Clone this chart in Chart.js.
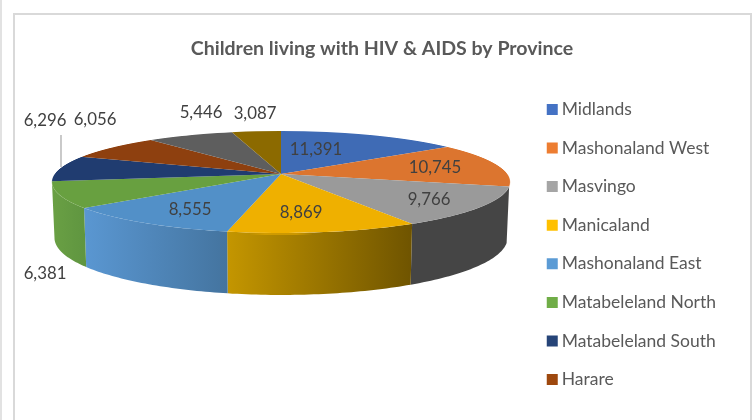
<!DOCTYPE html>
<html>
<head>
<meta charset="utf-8">
<style>html,body{margin:0;padding:0;background:#fff}canvas{display:block}</style>
<script src="https://cdn.jsdelivr.net/npm/chart.js@4"></script>
</head>
<body>
<canvas id="c" width="756" height="420"></canvas>
<script>
const categories = ["Midlands","Mashonaland West","Masvingo","Manicaland","Mashonaland East","Matabeleland North","Matabeleland South","Harare","Bulawayo","Mashonaland Central"];
const children = [11391,10745,9766,8869,8555,6381,6296,6056,5446,3087];
const legendCount = 8;
const legendColors = ["#4472C4","#ED7D31","#A5A5A5","#FFC000","#5B9BD5","#70AD47","#264478","#9E480E","#636363","#997300"];
const topColors = ["#3F6BB5","#DC752F","#9A9A9A","#EFB000","#5290C8","#68A040","#203C70","#8E400F","#5E5E5E","#8C6A00"];
const wallLeft = ["#2F5597","#A35A20","#454545","#C49600","#5A97D2","#6AA044","#1B3360","#7A360C","#4A4A4A","#6F5400"];
const wallRight = ["#2F5597","#A35A20","#454545","#6F5400","#44749F","#5F9540","#1B3360","#7A360C","#4A4A4A","#6F5400"];
const labelSpots = [[316,150],[435,168],[429,200],[301,213],[190,210],[45,274],[45,121],[95,120],[201,113],[255,114]];
const leader = [[61,135],[61,167]];

const topPlane = {cx:281, cy:174, A:226.2, B:49.75, k:0.157};
const basePlane = {cx:281, cy:229, A:223.7, B:55.6, k:0.157};
function project(p, a){
  const u = Math.sin(a), v = -Math.cos(a), w = 1/(1 - p.k*v);
  return [p.cx + p.A*u*w, p.cy + p.B*v*w];
}
const visibleFrom = 104*Math.PI/180, visibleTo = 261*Math.PI/180;

const pie3d = {
  id:'pie3d',
  afterLayout(chart){
    const lg = chart.legend;
    lg.top += 20; lg.bottom += 20; lg.left += 1.5; lg.right += 1.5;
  },
  beforeDraw(chart){
    const ctx = chart.ctx;
    ctx.save();
    ctx.fillStyle = '#fff';
    ctx.fillRect(0,0,chart.width,chart.height);
    ctx.fillStyle = '#D9D9D9';
    ctx.fillRect(13,13,739,2);
    ctx.fillRect(13,13,2,407);
    ctx.fillRect(750,13,2,407);
    ctx.fillStyle = '#E2E2E2';
    ctx.fillRect(0,0,2,420);
    ctx.restore();
  },
  beforeDatasetsDraw(chart){
    const ctx = chart.ctx, arcs = chart.getDatasetMeta(0).data;
    // side wall
    arcs.forEach((arc,i)=>{
      const s = Math.max(arc.startAngle+Math.PI/2, visibleFrom);
      const e = Math.min(arc.endAngle+Math.PI/2, visibleTo);
      if(e <= s) return;
      const pts = [], low = [];
      const n = 40;
      for(let j=0;j<=n;j++){
        const a = s+(e-s)*j/n;
        pts.push(project(topPlane,a));
        low.push(project(basePlane,a));
      }
      const xs = pts.concat(low).map(p=>p[0]);
      const x0 = Math.min(...xs), x1 = Math.max(...xs);
      const g = ctx.createLinearGradient(x0,0,x1,0);
      g.addColorStop(0,wallLeft[i]); g.addColorStop(1,wallRight[i]);
      ctx.beginPath();
      pts.forEach((p,j)=> j?ctx.lineTo(p[0],p[1]):ctx.moveTo(p[0],p[1]));
      low.reverse().forEach(p=>ctx.lineTo(p[0],p[1]));
      ctx.closePath();
      ctx.fillStyle = g;
      ctx.fill();
    });
    // top surface, row by row through the perspective plane
    const first = arcs[0], R = first.outerRadius, x0 = first.x, y0 = first.y;
    const p = topPlane;
    const yTop = Math.floor(p.cy - p.B/(1+p.k)), yBot = Math.ceil(p.cy + p.B/(1-p.k));
    for(let Y=yTop; Y<=yBot; Y++){
      const D = Y+0.5-p.cy;
      let v = D/(p.B + p.k*D);
      v = Math.max(-1,Math.min(1,v));
      const w = 1/(1-p.k*v);
      const sx = p.A*w/R, sy = p.B*w*w/R;
      ctx.save();
      ctx.setTransform(1,0,0,1,0,0);
      ctx.beginPath(); ctx.rect(0,Y,chart.width,1); ctx.clip();
      ctx.setTransform(sx,0,0,sy,p.cx-sx*x0,Y+0.5-sy*(y0+R*v));
      arcs.forEach(a=>a.draw(ctx));
      ctx.restore();
    }
    // leader line + value labels
    ctx.save();
    ctx.strokeStyle = '#A6A6A6'; ctx.lineWidth = 1.2;
    ctx.beginPath(); ctx.moveTo(leader[0][0],leader[0][1]); ctx.lineTo(leader[1][0],leader[1][1]); ctx.stroke();
    ctx.font = '16.8px Lato';
    ctx.fillStyle = '#404040';
    ctx.textAlign = 'center'; ctx.textBaseline = 'middle';
    children.forEach((val,i)=>ctx.fillText(val.toLocaleString('en-US'),labelSpots[i][0],labelSpots[i][1]));
    ctx.restore();
    return false;
  }
};

new Chart(document.getElementById('c'),{
  type:'pie',
  plugins:[pie3d],
  data:{labels:categories,datasets:[{data:children,backgroundColor:topColors,borderWidth:0}]},
  options:{
    responsive:false,animation:false,
    layout:{padding:{left:39.5,right:31.5,top:37,bottom:8}},
    plugins:{
      tooltip:{enabled:false},
      title:{display:true,text:'Children living with HIV & AIDS by Province',color:'#595959',
        font:{family:'Lato',size:19.56,weight:'bold'},padding:{top:0,bottom:49}},
      legend:{position:'right',
        labels:{usePointStyle:true,pointStyle:'rect',boxWidth:1.5,boxHeight:11,padding:21.1,color:'#595959',font:{family:'Lato',size:17.5},
          filter:(item)=>item.index<legendCount,
          generateLabels(chart){
            return Chart.overrides.pie.plugins.legend.labels.generateLabels(chart).map((l,i)=>Object.assign(l,{pointStyle:'rect',fillStyle:legendColors[i],strokeStyle:legendColors[i],lineWidth:0}));
          }}}
    }
  }
});
</script>
</body>
</html>
